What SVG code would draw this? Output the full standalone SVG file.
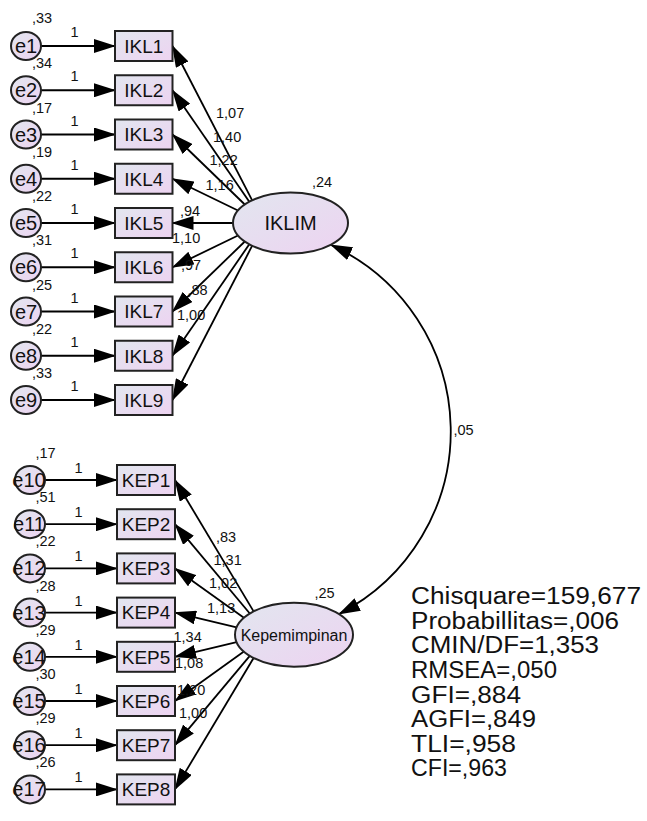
<svg xmlns="http://www.w3.org/2000/svg" width="647" height="821" viewBox="0 0 647 821">
<defs>
<linearGradient id="g" x1="0" y1="0" x2="1" y2="1">
<stop offset="0" stop-color="#e2e6ef"/>
<stop offset="1" stop-color="#edd3f1"/>
</linearGradient>
<marker id="ah" markerUnits="userSpaceOnUse" markerWidth="22" markerHeight="14" refX="21" refY="7" orient="auto-start-reverse" viewBox="0 0 22 14">
<path d="M0,0 L22,7 L0,14 z" fill="#000"/>
</marker>
<style>
.n{fill:url(#g);stroke:#222;stroke-width:2}
.c line,.c path{stroke:#000;stroke-width:1.8;fill:none;marker-end:url(#ah)}
.c path{marker-start:url(#ah)}
text{font-family:"Liberation Sans",Arial,sans-serif;fill:#111}
.e{font-size:20px;text-anchor:middle}
.b{font-size:19px;text-anchor:middle}
.s{font-size:14.5px}
.m{font-size:14.5px;text-anchor:middle}
.f{font-size:23.5px}
</style>
</defs>
<rect width="647" height="821" fill="#fff"/>

<g id="connectors" class="c">
<line x1="41" y1="46" x2="115" y2="46"/>
<line x1="41" y1="90.25" x2="115" y2="90.25"/>
<line x1="41" y1="134.5" x2="115" y2="134.5"/>
<line x1="41" y1="178.75" x2="115" y2="178.75"/>
<line x1="41" y1="223" x2="115" y2="223"/>
<line x1="41" y1="267.25" x2="115" y2="267.25"/>
<line x1="41" y1="311.5" x2="115" y2="311.5"/>
<line x1="41" y1="355.75" x2="115" y2="355.75"/>
<line x1="41" y1="400" x2="115" y2="400"/>
<line x1="45" y1="480" x2="117" y2="480"/>
<line x1="45" y1="524.2" x2="117" y2="524.2"/>
<line x1="45" y1="568.4" x2="117" y2="568.4"/>
<line x1="45" y1="612.6" x2="117" y2="612.6"/>
<line x1="45" y1="656.8" x2="117" y2="656.8"/>
<line x1="45" y1="701" x2="117" y2="701"/>
<line x1="45" y1="745.2" x2="117" y2="745.2"/>
<line x1="45" y1="789.4" x2="117" y2="789.4"/>
<line x1="252.2" y1="200.3" x2="172.5" y2="46"/>
<line x1="249.3" y1="201.7" x2="172.5" y2="90.25"/>
<line x1="244.8" y1="204.5" x2="172.5" y2="134.5"/>
<line x1="238" y1="210.5" x2="172.5" y2="178.75"/>
<line x1="233" y1="223" x2="172.5" y2="223"/>
<line x1="238" y1="235.5" x2="172.5" y2="267.25"/>
<line x1="244.8" y1="241.5" x2="172.5" y2="311.5"/>
<line x1="249.3" y1="244.3" x2="172.5" y2="355.75"/>
<line x1="252.2" y1="245.7" x2="172.5" y2="400"/>
<line x1="253.6" y1="611.4" x2="175" y2="480"/>
<line x1="249.8" y1="613.5" x2="175" y2="524.2"/>
<line x1="243.9" y1="617.8" x2="175" y2="568.4"/>
<line x1="236.6" y1="627.3" x2="175" y2="612.6"/>
<line x1="236.6" y1="642.1" x2="175" y2="656.8"/>
<line x1="243.9" y1="651.6" x2="175" y2="701"/>
<line x1="249.8" y1="655.9" x2="175" y2="745.2"/>
<line x1="253.6" y1="658" x2="175" y2="789.4"/>
<path d="M331,245 A205,205 0 0 1 339,614"/>
</g>

<g id="e1"><ellipse class="n" cx="26" cy="46" rx="15" ry="14"/><text class="e" x="26" y="53">e1</text></g>
<g id="e2"><ellipse class="n" cx="26" cy="90.25" rx="15" ry="14"/><text class="e" x="26" y="97.25">e2</text></g>
<g id="e3"><ellipse class="n" cx="26" cy="134.5" rx="15" ry="14"/><text class="e" x="26" y="141.5">e3</text></g>
<g id="e4"><ellipse class="n" cx="26" cy="178.75" rx="15" ry="14"/><text class="e" x="26" y="185.75">e4</text></g>
<g id="e5"><ellipse class="n" cx="26" cy="223" rx="15" ry="14"/><text class="e" x="26" y="230">e5</text></g>
<g id="e6"><ellipse class="n" cx="26" cy="267.25" rx="15" ry="14"/><text class="e" x="26" y="274.25">e6</text></g>
<g id="e7"><ellipse class="n" cx="26" cy="311.5" rx="15" ry="14"/><text class="e" x="26" y="318.5">e7</text></g>
<g id="e8"><ellipse class="n" cx="26" cy="355.75" rx="15" ry="14"/><text class="e" x="26" y="362.75">e8</text></g>
<g id="e9"><ellipse class="n" cx="26" cy="400" rx="15" ry="14"/><text class="e" x="26" y="407">e9</text></g>
<g id="e10"><ellipse class="n" cx="30" cy="480" rx="15" ry="14"/><text class="e" x="29" y="487">e10</text></g>
<g id="e11"><ellipse class="n" cx="30" cy="524.2" rx="15" ry="14"/><text class="e" x="29" y="531.2">e11</text></g>
<g id="e12"><ellipse class="n" cx="30" cy="568.4" rx="15" ry="14"/><text class="e" x="29" y="575.4">e12</text></g>
<g id="e13"><ellipse class="n" cx="30" cy="612.6" rx="15" ry="14"/><text class="e" x="29" y="619.6">e13</text></g>
<g id="e14"><ellipse class="n" cx="30" cy="656.8" rx="15" ry="14"/><text class="e" x="29" y="663.8">e14</text></g>
<g id="e15"><ellipse class="n" cx="30" cy="701" rx="15" ry="14"/><text class="e" x="29" y="708">e15</text></g>
<g id="e16"><ellipse class="n" cx="30" cy="745.2" rx="15" ry="14"/><text class="e" x="29" y="752.2">e16</text></g>
<g id="e17"><ellipse class="n" cx="30" cy="789.4" rx="15" ry="14"/><text class="e" x="29" y="796.4">e17</text></g>

<g id="IKL1"><rect class="n" x="115" y="31" width="57.5" height="30"/><text class="b" x="143.75" y="52.8">IKL1</text></g>
<g id="IKL2"><rect class="n" x="115" y="75.25" width="57.5" height="30"/><text class="b" x="143.75" y="97.05">IKL2</text></g>
<g id="IKL3"><rect class="n" x="115" y="119.5" width="57.5" height="30"/><text class="b" x="143.75" y="141.3">IKL3</text></g>
<g id="IKL4"><rect class="n" x="115" y="163.75" width="57.5" height="30"/><text class="b" x="143.75" y="185.55">IKL4</text></g>
<g id="IKL5"><rect class="n" x="115" y="208" width="57.5" height="30"/><text class="b" x="143.75" y="229.8">IKL5</text></g>
<g id="IKL6"><rect class="n" x="115" y="252.25" width="57.5" height="30"/><text class="b" x="143.75" y="274.05">IKL6</text></g>
<g id="IKL7"><rect class="n" x="115" y="296.5" width="57.5" height="30"/><text class="b" x="143.75" y="318.3">IKL7</text></g>
<g id="IKL8"><rect class="n" x="115" y="340.75" width="57.5" height="30"/><text class="b" x="143.75" y="362.55">IKL8</text></g>
<g id="IKL9"><rect class="n" x="115" y="385" width="57.5" height="30"/><text class="b" x="143.75" y="406.8">IKL9</text></g>

<g id="KEP1"><rect class="n" x="117" y="465" width="58" height="30"/><text class="b" x="146" y="486.8">KEP1</text></g>
<g id="KEP2"><rect class="n" x="117" y="509.2" width="58" height="30"/><text class="b" x="146" y="531">KEP2</text></g>
<g id="KEP3"><rect class="n" x="117" y="553.4" width="58" height="30"/><text class="b" x="146" y="575.2">KEP3</text></g>
<g id="KEP4"><rect class="n" x="117" y="597.6" width="58" height="30"/><text class="b" x="146" y="619.4">KEP4</text></g>
<g id="KEP5"><rect class="n" x="117" y="641.8" width="58" height="30"/><text class="b" x="146" y="663.6">KEP5</text></g>
<g id="KEP6"><rect class="n" x="117" y="686" width="58" height="30"/><text class="b" x="146" y="707.8">KEP6</text></g>
<g id="KEP7"><rect class="n" x="117" y="730.2" width="58" height="30"/><text class="b" x="146" y="752">KEP7</text></g>
<g id="KEP8"><rect class="n" x="117" y="774.4" width="58" height="30"/><text class="b" x="146" y="796.2">KEP8</text></g>

<g id="IKLIM"><ellipse class="n" cx="290.5" cy="223" rx="57.5" ry="30.5"/><text x="290.5" y="230" style="font-size:20px;text-anchor:middle">IKLIM</text></g>
<g id="Kepemimpinan"><ellipse class="n" cx="294" cy="634.7" rx="59" ry="32"/><text x="294" y="640.5" style="font-size:16px;text-anchor:middle">Kepemimpinan</text></g>

<g id="labels">
<text class="s" x="32" y="23">,33</text>
<text class="s" x="32" y="68.25">,34</text>
<text class="s" x="32" y="112.5">,17</text>
<text class="s" x="32" y="156.75">,19</text>
<text class="s" x="32" y="201">,22</text>
<text class="s" x="32" y="245.25">,31</text>
<text class="s" x="32" y="289.5">,25</text>
<text class="s" x="32" y="333.75">,22</text>
<text class="s" x="32" y="378">,33</text>
<text class="s" x="35.5" y="458">,17</text>
<text class="s" x="35.5" y="502.2">,51</text>
<text class="s" x="35.5" y="546.4">,22</text>
<text class="s" x="35.5" y="590.6">,28</text>
<text class="s" x="35.5" y="634.8">,29</text>
<text class="s" x="35.5" y="679">,30</text>
<text class="s" x="35.5" y="723.2">,29</text>
<text class="s" x="35.5" y="767.4">,26</text>
<text class="m" x="74.5" y="37">1</text>
<text class="m" x="74.5" y="81.25">1</text>
<text class="m" x="74.5" y="125.5">1</text>
<text class="m" x="74.5" y="169.75">1</text>
<text class="m" x="74.5" y="214">1</text>
<text class="m" x="74.5" y="258.25">1</text>
<text class="m" x="74.5" y="302.5">1</text>
<text class="m" x="74.5" y="346.75">1</text>
<text class="m" x="74.5" y="391">1</text>
<text class="m" x="78.5" y="473">1</text>
<text class="m" x="78.5" y="517.2">1</text>
<text class="m" x="78.5" y="561.4">1</text>
<text class="m" x="78.5" y="605.6">1</text>
<text class="m" x="78.5" y="649.8">1</text>
<text class="m" x="78.5" y="694">1</text>
<text class="m" x="78.5" y="738.2">1</text>
<text class="m" x="78.5" y="782.4">1</text>
<text class="s" x="216" y="118">1,07</text>
<text class="s" x="213" y="141.5">1,40</text>
<text class="s" x="209.5" y="165">1,22</text>
<text class="s" x="205.5" y="190">1,16</text>
<text class="s" x="180" y="216">,94</text>
<text class="s" x="172" y="243">1,10</text>
<text class="s" x="181" y="270">,97</text>
<text class="s" x="187.5" y="295">,88</text>
<text class="s" x="177" y="320">1,00</text>
<text class="s" x="312" y="186.5">,24</text>
<text class="s" x="216" y="541.5">,83</text>
<text class="s" x="213.5" y="565">1,31</text>
<text class="s" x="209" y="588">1,02</text>
<text class="s" x="207" y="613">1,13</text>
<text class="s" x="173.5" y="641.5">1,34</text>
<text class="s" x="175" y="668">1,08</text>
<text class="s" x="177" y="695">1,20</text>
<text class="s" x="179" y="718">1,00</text>
<text class="s" x="314.5" y="598">,25</text>
<text class="s" x="453.5" y="435">,05</text>
</g>

<g id="fit">
<text class="f" x="411" y="604.3" textLength="230" lengthAdjust="spacingAndGlyphs">Chisquare=159,677</text>
<text class="f" x="411" y="628.9" textLength="208" lengthAdjust="spacingAndGlyphs">Probabillitas=,006</text>
<text class="f" x="411" y="653.4" textLength="188" lengthAdjust="spacingAndGlyphs">CMIN/DF=1,353</text>
<text class="f" x="411" y="678" textLength="146" lengthAdjust="spacingAndGlyphs">RMSEA=,050</text>
<text class="f" x="411" y="702.5" textLength="110" lengthAdjust="spacingAndGlyphs">GFI=,884</text>
<text class="f" x="411" y="727" textLength="125" lengthAdjust="spacingAndGlyphs">AGFI=,849</text>
<text class="f" x="411" y="751.6" textLength="105" lengthAdjust="spacingAndGlyphs">TLI=,958</text>
<text class="f" x="411" y="776.2" textLength="96" lengthAdjust="spacingAndGlyphs">CFI=,963</text>
</g>
</svg>
